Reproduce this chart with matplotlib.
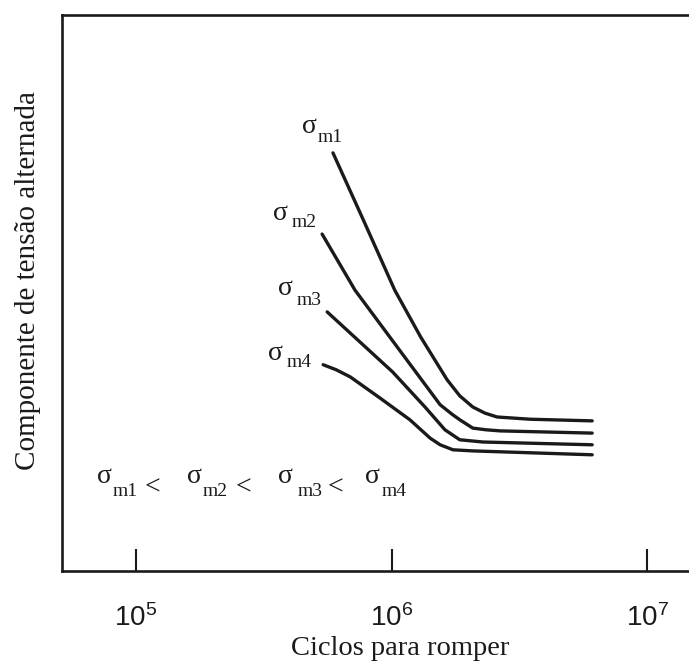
import matplotlib
matplotlib.use("Agg")
import matplotlib.pyplot as plt
from matplotlib.ticker import FixedLocator, FixedFormatter, NullLocator

plt.rcParams['mathtext.fontset'] = 'custom'
plt.rcParams['mathtext.rm'] = 'Liberation Serif'
plt.rcParams['mathtext.sf'] = 'Liberation Sans'
plt.rcParams['font.family'] = ['Liberation Serif', 'DejaVu Serif']

# ---- data (cycles to failure, alternating stress component in arbitrary units) ----
n_m1 = [590e3, 773e3, 1.03e6, 1.30e6, 1.65e6, 1.85e6, 2.08e6, 2.32e6, 2.59e6, 3.48e6, 6.1e6]
s_m1 = [75.2, 63.3, 50.5, 42.1, 34.4, 31.5, 29.5, 28.4, 27.7, 27.3, 27.0]

n_m2 = [535e3, 720e3, 1.08e6, 1.55e6, 1.725e6, 1.85e6, 2.08e6, 2.34e6, 2.66e6, 6.1e6]
s_m2 = [60.6, 50.5, 39.6, 29.9, 28.2, 27.2, 25.7, 25.4, 25.2, 24.8]

n_m3 = [560e3, 1.01e6, 1.352e6, 1.618e6, 1.85e6, 2.28e6, 6.1e6]
s_m3 = [46.6, 35.8, 29.5, 25.4, 23.6, 23.2, 22.7]

n_m4 = [540e3, 607e3, 690e3, 902e3, 1.18e6, 1.416e6, 1.55e6, 1.74e6, 2.08e6, 6.1e6]
s_m4 = [37.1, 36.2, 34.9, 31.1, 27.2, 23.9, 22.7, 21.8, 21.6, 20.9]

xticks = [1e5, 1e6, 1e7]
xtick_labels = [r'$\mathsf{10^{5}}$', r'$\mathsf{10^{6}}$', r'$\mathsf{10^{7}}$']
subs = ['m1', 'm2', 'm3', 'm4']

W, H = 689, 663
fig = plt.figure(figsize=(W / 100, H / 100), dpi=100)

left, right, bottom, top = 62, 700, 571, 15
ax = fig.add_axes([left / W, (H - bottom) / H, (right - left) / W, (bottom - top) / H])
ax.set_xscale('log')
ax.set_xlim(51330, 1.612e7)
ax.set_ylim(0, 100)

for n, s in [(n_m1, s_m1), (n_m2, s_m2), (n_m3, s_m3), (n_m4, s_m4)]:
    ax.plot(n, s, color='#1a1a1a', lw=2.4, solid_capstyle='round', solid_joinstyle='round')

for side in ['left', 'bottom', 'top']:
    ax.spines[side].set_linewidth(1.9)
    ax.spines[side].set_color('#1a1a1a')
ax.spines['right'].set_visible(False)

ax.xaxis.set_major_locator(FixedLocator(xticks))
ax.xaxis.set_major_formatter(FixedFormatter(xtick_labels))
ax.xaxis.set_minor_locator(NullLocator())
ax.yaxis.set_major_locator(NullLocator())
ax.yaxis.set_minor_locator(NullLocator())
ax.tick_params(axis='x', direction='in', length=16, width=1.5, pad=24,
               labelsize=20, colors='#1a1a1a')


def put(txt, x, y, size, **kw):
    fig.text(x / W, 1 - y / H, txt, fontsize=size, ha='left', va='baseline',
             color='#1a1a1a', **kw)


# curve labels: (sigma left, sigma baseline, sub left, sub baseline)
lab_pos = [(302, 133, 318, 142), (273, 220, 292, 227), (278, 295, 297, 305), (268, 360, 287, 367)]
for sub, (xs, ys, xm, ym) in zip(subs, lab_pos):
    put('σ', xs, ys, 20)
    put(sub, xm, ym, 14)

# inequality line
eq_sig = [97, 187, 278, 365]
eq_sub = [113, 203, 298, 382]
eq_lt = [145, 236, 328]
for i, sub in enumerate(subs):
    put('σ', eq_sig[i], 483, 20)
    put(sub, eq_sub[i], 496, 14)
for x in eq_lt:
    put('<', x, 494, 20)

fig.text(400 / W, 1 - 655 / H, 'Ciclos para romper', fontsize=20.5, ha='center',
         va='baseline', color='#1a1a1a')
fig.text(28 / W, 1 - 280 / H, 'Componente de tensão alternada', fontsize=21,
         ha='center', va='center', rotation=90, color='#1a1a1a')

fig.savefig('out.png', dpi=100, facecolor='white')
